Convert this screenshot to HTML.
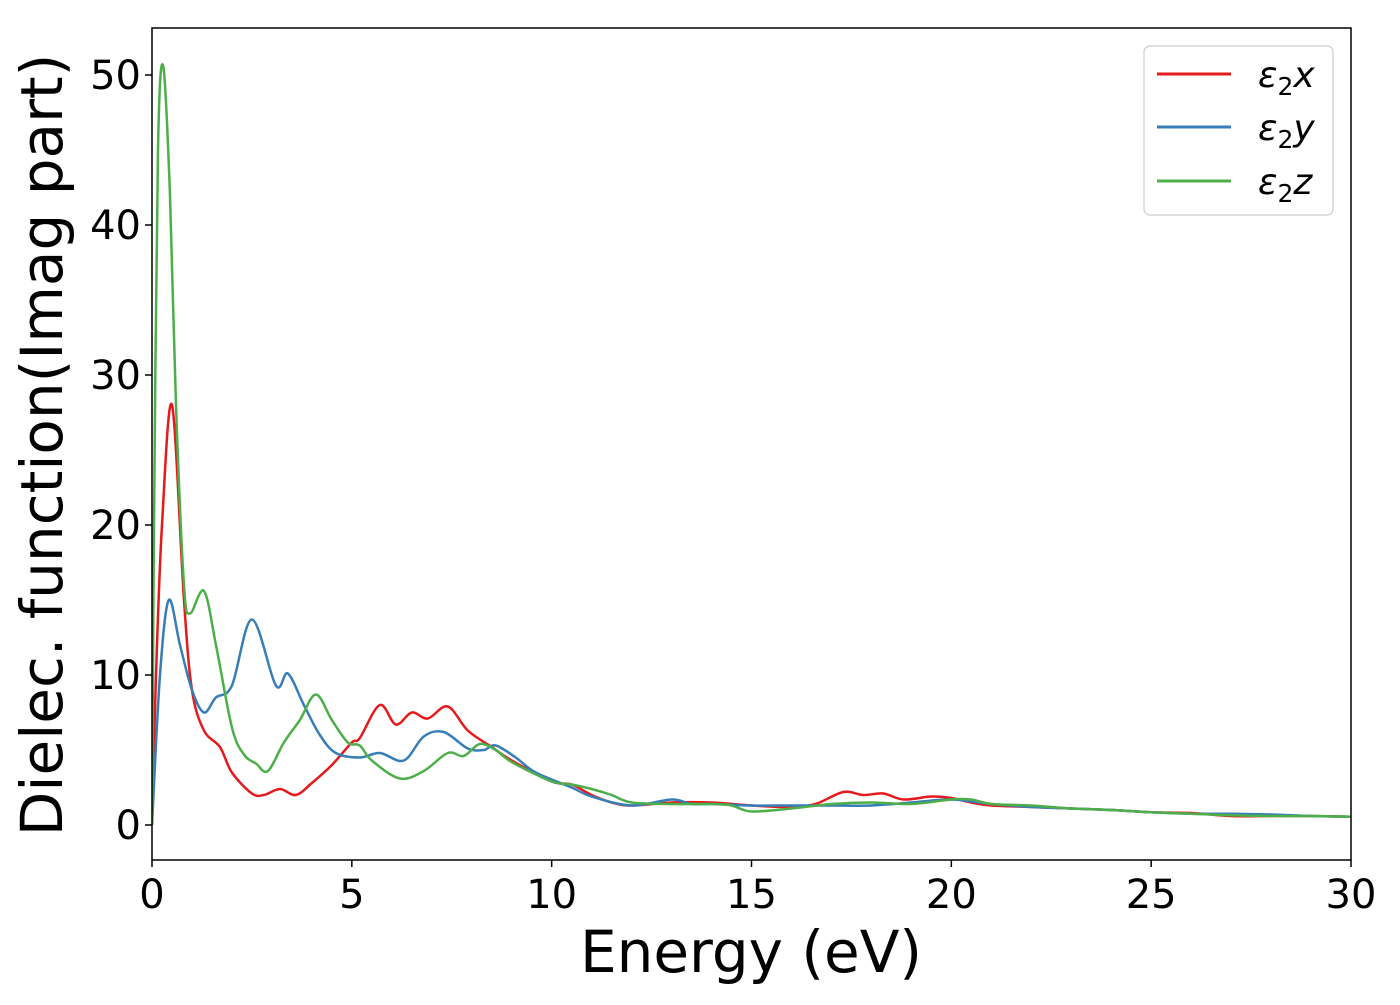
<!DOCTYPE html>
<html><head><meta charset="utf-8"><style>
html,body{margin:0;padding:0;background:#fff;}
svg text{font-family:"DejaVu Sans","Liberation Sans",sans-serif;fill:#000;}
</style></head><body>
<svg id="chart" width="1400" height="1000" viewBox="0 0 1400 1000" xmlns="http://www.w3.org/2000/svg">
<rect x="0" y="0" width="1400" height="1000" fill="#fff"/>
<g id="series"></g>
<g id="axes"></g>
<text x="751" y="972" font-size="58" text-anchor="middle">Energy (eV)</text>
<text transform="translate(62,445) rotate(-90)" font-size="58" text-anchor="middle">Dielec. function(Imag part)</text>
<g>
<rect x="1144" y="46" width="189" height="169" rx="6" fill="#fff" stroke="#d6d6d6" stroke-width="1.5"/>
<line x1="1157" y1="74" x2="1231" y2="74" stroke="#e41a1c" stroke-width="3"/>
<line x1="1157" y1="127" x2="1231" y2="127" stroke="#377eb8" stroke-width="3"/>
<line x1="1157" y1="181" x2="1231" y2="181" stroke="#4daf4a" stroke-width="3"/>
<text x="1258" y="87" font-size="36" font-style="italic">ε<tspan font-style="normal" font-size="25" dy="8">2</tspan><tspan dy="-8">x</tspan></text>
<text x="1258" y="140" font-size="36" font-style="italic">ε<tspan font-style="normal" font-size="25" dy="8">2</tspan><tspan dy="-8">y</tspan></text>
<text x="1258" y="194" font-size="36" font-style="italic">ε<tspan font-style="normal" font-size="25" dy="8">2</tspan><tspan dy="-8">z</tspan></text>
</g>
</svg>
<script>
const xTicks=[0,5,10,15,20,25,30];
const yTicks=[0,10,20,30,40,50];
const exE=[0,0.1,0.25,0.5,0.8,1.0,1.3,1.7,2.0,2.5,2.8,3.2,3.6,4.0,4.5,5.0,5.2,5.7,6.1,6.5,6.9,7.4,7.9,8.5,9,10,10.5,11,11.5,12,13,14,15,16,16.6,17.3,17.8,18.3,18.8,19.5,20,20.5,21,22,23,24,25,26,27,28,29,30];
const exV=[0,10,20,28,15,9,6.3,5.2,3.5,2.1,2.0,2.4,2.0,2.8,4.0,5.5,5.8,8.0,6.7,7.5,7.1,7.9,6.3,5.2,4.3,2.9,2.7,2.0,1.5,1.3,1.5,1.5,1.3,1.2,1.4,2.2,2.0,2.1,1.7,1.9,1.8,1.5,1.3,1.2,1.1,1.0,0.85,0.8,0.6,0.6,0.6,0.55];
const eyE=[0,0.2,0.42,0.7,1.0,1.3,1.6,2.0,2.5,3.1,3.4,3.8,4.2,4.6,5.2,5.7,6.3,6.8,7.3,7.9,8.3,8.6,9.1,9.6,10.5,11,12,13,13.5,14,15,16,17,18,19,20,21,22,23,24,25,26,27,28,29,30];
const eyV=[0,10,15,12,9,7.5,8.5,9.3,13.7,9.3,10.1,8,6,4.8,4.5,4.8,4.3,5.9,6.2,5.1,5.0,5.3,4.5,3.5,2.5,1.9,1.3,1.7,1.4,1.4,1.3,1.3,1.3,1.3,1.5,1.7,1.4,1.2,1.1,1.0,0.85,0.75,0.75,0.7,0.6,0.55];
const ezE=[0,0.05,0.15,0.28,0.45,0.6,0.8,0.95,1.3,1.6,2.0,2.3,2.6,2.9,3.3,3.7,4.1,4.5,4.9,5.2,5.5,6.2,6.8,7.4,7.8,8.2,8.6,9,10,10.5,11,11.5,12,13,14,14.5,15,16,17,18,19,20,20.5,21,22,23,24,25,26,27,28,29,30];
const ezV=[0,20,45,50.6,42,28,16,14.1,15.6,12,6.5,4.7,4.1,3.6,5.5,7.0,8.7,7,5.5,5.3,4.3,3.1,3.6,4.8,4.6,5.4,5.0,4.2,2.9,2.7,2.4,2.0,1.5,1.4,1.4,1.3,0.9,1.1,1.4,1.5,1.4,1.7,1.7,1.4,1.3,1.1,1.0,0.85,0.75,0.65,0.6,0.6,0.55];

const X0=152,X1=1351,Y0=860,Y1=28;
const sx=e=>X0+(e-0)/(30-0)*(X1-X0);
const sy=v=>825-v*15;
const NS="http://www.w3.org/2000/svg";
function mk(t,a){const el=document.createElementNS(NS,t);for(const k in a)el.setAttribute(k,a[k]);return el;}
function pathD(E,V){
  const p=E.map((e,i)=>[sx(e),sy(V[i])]);
  let d="M"+p[0][0]+","+p[0][1];
  for(let i=0;i<p.length-1;i++){
    const a=p[Math.max(0,i-1)],b=p[i],c=p[i+1],n=p[Math.min(p.length-1,i+2)];
    const c1=[b[0]+(c[0]-a[0])/6,b[1]+(c[1]-a[1])/6];
    const c2=[c[0]-(n[0]-b[0])/6,c[1]-(n[1]-b[1])/6];
    d+=" C"+c1[0].toFixed(2)+","+c1[1].toFixed(2)+" "+c2[0].toFixed(2)+","+c2[1].toFixed(2)+" "+c[0].toFixed(2)+","+c[1].toFixed(2);
  }
  return d;
}
const sg=document.getElementById("series");
const clip=mk("clipPath",{id:"pc"});clip.appendChild(mk("rect",{x:X0,y:Y1,width:X1-X0,height:Y0-Y1}));
document.getElementById("chart").appendChild(clip);
sg.setAttribute("clip-path","url(#pc)");
const px=mk("path",{d:pathD(exE,exV),fill:"none",stroke:"#e41a1c","stroke-width":2.5});


sg.appendChild(px);
const py=mk("path",{d:pathD(eyE,eyV),fill:"none",stroke:"#377eb8","stroke-width":2.5});


sg.appendChild(py);
const pz=mk("path",{d:pathD(ezE,ezV),fill:"none",stroke:"#4daf4a","stroke-width":2.5});


sg.appendChild(pz);

const ax=document.getElementById("axes");
const fr=mk("rect",{x:X0,y:Y1,width:X1-X0,height:Y0-Y1,fill:"none",stroke:"#000","stroke-width":1.5});


ax.appendChild(fr);
xTicks.forEach(t=>{
  const l=mk("line",{x1:sx(t),x2:sx(t),y1:Y0,y2:Y0+7,stroke:"#000","stroke-width":1.5});
  
  
  ax.appendChild(l);
  const tx=mk("text",{x:sx(t),y:Y0+48,"font-size":40,"text-anchor":"middle"});
  tx.textContent=t;
  
  
  ax.appendChild(tx);
});
yTicks.forEach(t=>{
  const l=mk("line",{x1:X0-7,x2:X0,y1:sy(t),y2:sy(t),stroke:"#000","stroke-width":1.5});
  
  
  ax.appendChild(l);
  const tx=mk("text",{x:X0-11,y:sy(t)+14,"font-size":40,"text-anchor":"end"});
  tx.textContent=t;
  
  
  ax.appendChild(tx);
});
</script>
</body></html>
